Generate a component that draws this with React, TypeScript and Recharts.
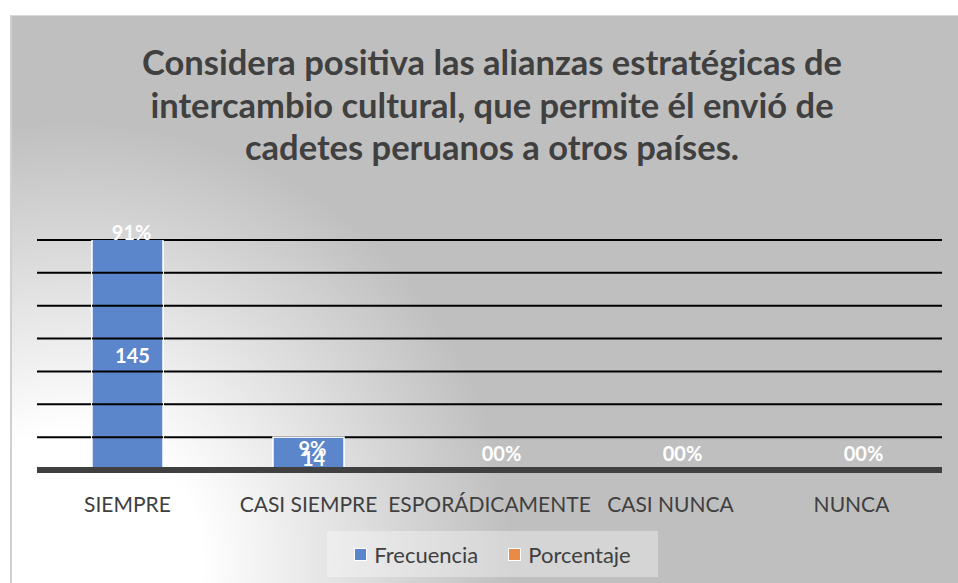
import { Bar, BarChart, CartesianGrid, LabelList, Legend, XAxis, YAxis } from "recharts";

const titleLines = [
	"Considera positiva las alianzas estratégicas de",
	"intercambio cultural, que permite él envió de",
	"cadetes peruanos a otros países.",
];
const categories = ["SIEMPRE", "CASI SIEMPRE", "ESPORÁDICAMENTE", "CASI NUNCA", "NUNCA"];
const frecuencia = [145, 14, 0, 0, 0];
const porcentaje = [0.91, 0.09, 0, 0, 0];
const porcentajeLabels = ["91%", "9%", "00%", "00%", "00%"];
const yTicks = [0, 14, 28, 42, 56, 70, 84, 98];

const data = categories.map((name, i) => ({
	name,
	frecuencia: frecuencia[i],
	porcentaje: porcentaje[i],
	pctLabel: porcentajeLabels[i],
}));

const W = 958;
const H = 583;
const MARGIN = { top: 240, right: 16, bottom: 6, left: 37 };
const LEGEND_H = 46;
const XAXIS_H = 61;
const FONT = "Lato, 'Open Sans', sans-serif";
const BLUE = "#5c86cb";
const ORANGE = "#e98b48";

// geometry of a bar label, clamped to the plot top (the first bar overflows)
function barBox(props: any) {
	const vb = props.viewBox ?? {};
	const x = props.x ?? vb.x;
	const y = props.y ?? vb.y;
	const width = props.width ?? vb.width;
	const height = props.height ?? vb.height;
	const bottom = y + height;
	const top = Math.max(y, MARGIN.top);
	return { x, width, top, bottom };
}

// bar rect, with the gridlines repeated over it (the reference draws them on top)
function GridBar(props: any) {
	const x = Number(props.x);
	const y = Number(props.y);
	const width = Number(props.width);
	const height = Number(props.height);
	if (!(height > 0)) return null;
	const raw = props.payload?.frecuencia ?? props.frecuencia ?? props.value;
	const value = Array.isArray(raw) ? raw[1] - raw[0] : Number(raw);
	const bottom = y + height;
	const pxPerUnit = value > 0 ? height / value : 0;
	const lines =
		pxPerUnit > 0
			? yTicks
					.filter((t) => t > 0 && t < value)
					.map((t) => bottom - t * pxPerUnit)
					.filter((ly) => ly > MARGIN.top + 1)
			: [];
	return (
		<g>
			<rect x={x} y={y} width={width} height={height} fill={BLUE} stroke="#ffffff" strokeWidth={1.5} />
			{lines.map((ly) => (
				<line key={ly} x1={x} x2={x + width} y1={ly} y2={ly} stroke="#000000" strokeWidth={2} />
			))}
		</g>
	);
}

function FreqLabel(props: any) {
	if (!props.value) return null;
	const { x, width, top, bottom } = barBox(props);
	const short = bottom - top < 60;
	return (
		<text
			x={x + width / 2 + 5}
			y={(top + bottom) / 2 + (short ? 4 : 0)}
			textAnchor="middle"
			dominantBaseline="central"
			fill="#ffffff"
			fontFamily={FONT}
			fontWeight={700}
			fontSize={20}
		>
			{props.value}
		</text>
	);
}

function PctLabel(props: any) {
	const { x, width, top, bottom } = barBox(props);
	const tall = bottom - top > 60;
	const empty = bottom - top < 3;
	return (
		<text
			x={x + width / 2 + (empty ? 12 : 4)}
			y={tall ? top - 8 : bottom - (empty ? 17 : 22)}
			textAnchor="middle"
			dominantBaseline="central"
			fill="#ffffff"
			fontFamily={FONT}
			fontWeight={700}
			fontSize={20}
		>
			{props.value}
		</text>
	);
}

function LegendBox() {
	const item = (color: string, label: string) => (
		<div style={{ display: "flex", alignItems: "center" }}>
			<span
				style={{
					width: 11,
					height: 11,
					background: color,
					border: "1.5px solid #ffffff",
					marginRight: 7,
				}}
			/>
			<span>{label}</span>
		</div>
	);
	return (
		<div style={{ height: LEGEND_H, display: "flex", justifyContent: "center" }}>
			<div
				style={{
					height: LEGEND_H,
					width: 331,
					boxSizing: "border-box",
					transform: "translateX(3px)",
					background: "rgba(255,255,255,0.35)",
					display: "flex",
					alignItems: "center",
					justifyContent: "center",
					gap: 30,
					fontFamily: FONT,
					fontSize: 22,
					color: "#404040",
				}}
			>
				{item(BLUE, "Frecuencia")}
				{item(ORANGE, "Porcentaje")}
			</div>
		</div>
	);
}

export default function App() {
	return (
		<div style={{ position: "absolute", left: 0, top: 0, width: W, height: H, background: "#ffffff", overflow: "hidden" }}>
			<div
				style={{
					position: "absolute",
					left: 10,
					top: 15,
					width: W - 10,
					height: H - 15,
					boxSizing: "border-box",
					borderTop: "1.5px solid #dadada",
					borderLeft: "2px solid #d0d0d0",
					background: "radial-gradient(circle at 60px 545px, #ffffff 0px, #ffffff 130px, #bfbfbf 440px)",
				}}
			/>
			<div
				style={{
					position: "absolute",
					left: 0,
					top: 41,
					width: 984,
					textAlign: "center",
					fontFamily: FONT,
					fontWeight: 700,
					fontSize: 34.5,
					lineHeight: "42.7px",
					color: "#404040",
				}}
			>
				{titleLines.map((t) => (
					<div key={t}>{t}</div>
				))}
			</div>
			<div style={{ position: "absolute", left: 0, top: 0 }}>
				<BarChart
					width={W}
					height={H}
					data={data}
					margin={MARGIN}
					barSize={71}
					barGap={-71}
					style={{ fontFamily: FONT }}
				>
					<CartesianGrid yAxisId="left" vertical={false} stroke="#000000" strokeWidth={2} />
					<XAxis
						dataKey="name"
						height={XAXIS_H}
						interval={0}
						tickLine={false}
						tickSize={0}
						tickMargin={27}
						axisLine={{ stroke: "#404040", strokeWidth: 6 }}
						tick={{ fill: "#404040", fontSize: 21, fontFamily: FONT }}
					/>
					<YAxis yAxisId="left" hide domain={[0, 98]} ticks={yTicks} allowDataOverflow />
					<YAxis yAxisId="right" orientation="right" hide domain={[0, 1]} />
					<Bar
						yAxisId="right"
						dataKey="porcentaje"
						name="Porcentaje"
						fill={ORANGE}
						stroke="#ffffff"
						strokeWidth={1.5}
						isAnimationActive={false}
					/>
					<Bar
						yAxisId="left"
						dataKey="frecuencia"
						name="Frecuencia"
						fill={BLUE}
						stroke="#ffffff"
						strokeWidth={1.5}
						minPointSize={1}
						shape={(p: any) => <GridBar {...p} />}
						isAnimationActive={false}
					>
						<LabelList dataKey="frecuencia" content={FreqLabel} />
						<LabelList dataKey="pctLabel" content={PctLabel} />
					</Bar>
					<Legend verticalAlign="bottom" height={LEGEND_H} content={() => <LegendBox />} />
				</BarChart>
			</div>
		</div>
	);
}
